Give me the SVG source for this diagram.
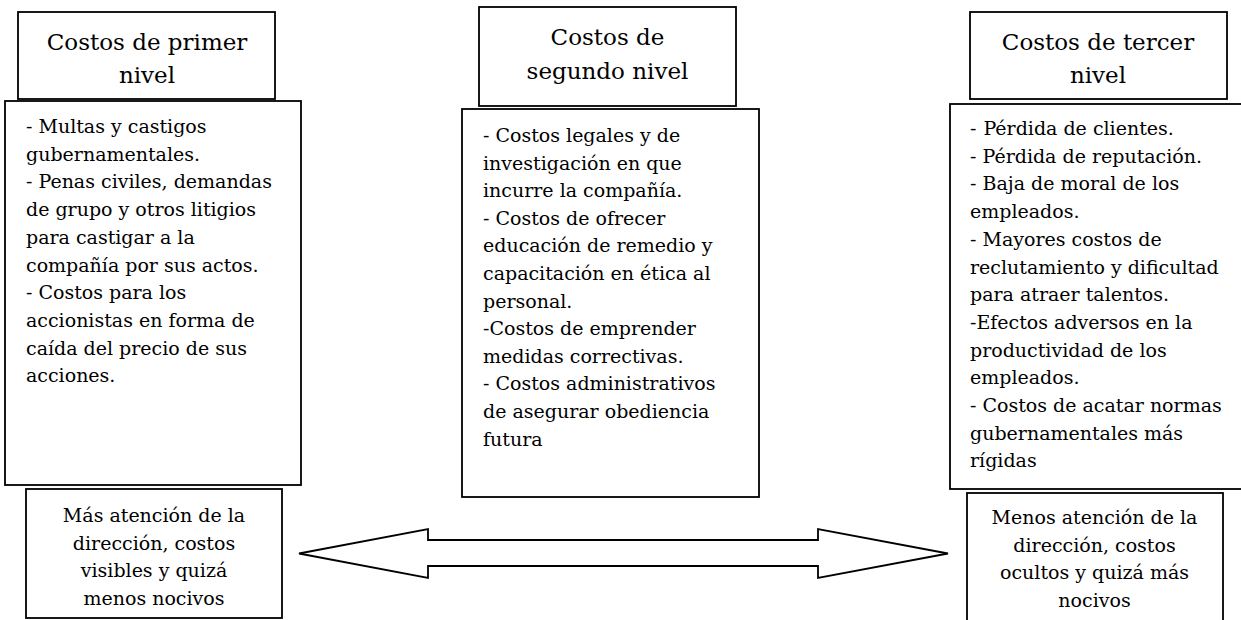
<svg xmlns="http://www.w3.org/2000/svg" width="1241" height="620" viewBox="0 0 1241 620">
<style>
.box{fill:#fff;stroke:#000;stroke-width:1.8}
text{font-family:'DejaVu Serif','Liberation Serif',serif;fill:#000}
.title{font-size:23px;text-anchor:middle}
.body{font-size:19px}
.foot{font-size:19px;text-anchor:middle}
.arrow{fill:#fff;stroke:#000;stroke-width:1.8;stroke-linejoin:miter}
</style>
<rect width="1241" height="620" fill="#fff"/>
<g id="title1">
<rect class="box" x="18" y="12" width="257" height="87"/>
<text class="title" x="147" y="50">Costos de primer</text>
<text class="title" x="147" y="83">nivel</text>
</g>
<g id="content1">
<rect class="box" x="5" y="101" width="296" height="384"/>
<text class="body" x="26" y="133">- Multas y castigos</text>
<text class="body" x="26" y="160.7">gubernamentales.</text>
<text class="body" x="26" y="188.4">- Penas civiles, demandas</text>
<text class="body" x="26" y="216.1">de grupo y otros litigios</text>
<text class="body" x="26" y="243.8">para castigar a la</text>
<text class="body" x="26" y="271.5">compañía por sus actos.</text>
<text class="body" x="26" y="299.2">- Costos para los</text>
<text class="body" x="26" y="326.9">accionistas en forma de</text>
<text class="body" x="26" y="354.6">caída del precio de sus</text>
<text class="body" x="26" y="382.3">acciones.</text>
</g>
<g id="title2">
<rect class="box" x="479" y="7" width="257" height="99"/>
<text class="title" x="607.5" y="45">Costos de</text>
<text class="title" x="607.5" y="79">segundo nivel</text>
</g>
<g id="content2">
<rect class="box" x="462" y="109" width="297" height="388"/>
<text class="body" x="483" y="142">- Costos legales y de</text>
<text class="body" x="483" y="169.6">investigación en que</text>
<text class="body" x="483" y="197.2">incurre la compañía.</text>
<text class="body" x="483" y="224.8">- Costos de ofrecer</text>
<text class="body" x="483" y="252.4">educación de remedio y</text>
<text class="body" x="483" y="280">capacitación en ética al</text>
<text class="body" x="483" y="307.6">personal.</text>
<text class="body" x="483" y="335.2">-Costos de emprender</text>
<text class="body" x="483" y="362.8">medidas correctivas.</text>
<text class="body" x="483" y="390.4">- Costos administrativos</text>
<text class="body" x="483" y="418">de asegurar obediencia</text>
<text class="body" x="483" y="445.6">futura</text>
</g>
<g id="title3">
<rect class="box" x="970" y="12" width="257" height="87"/>
<text class="title" x="1098" y="50">Costos de tercer</text>
<text class="title" x="1098" y="83">nivel</text>
</g>
<g id="content3">
<rect class="box" x="950" y="104" width="300" height="385"/>
<text class="body" x="970" y="135"><tspan>-</tspan><tspan dx="7">Pérdida de clientes.</tspan></text>
<text class="body" x="970" y="162.7">- Pérdida de reputación.</text>
<text class="body" x="970" y="190.4">- Baja de moral de los</text>
<text class="body" x="970" y="218.1">empleados.</text>
<text class="body" x="970" y="245.8">- Mayores costos de</text>
<text class="body" x="970" y="273.5">reclutamiento y dificultad</text>
<text class="body" x="970" y="301.2">para atraer talentos.</text>
<text class="body" x="970" y="328.9">-Efectos adversos en la</text>
<text class="body" x="970" y="356.6">productividad de los</text>
<text class="body" x="970" y="384.3">empleados.</text>
<text class="body" x="970" y="412">- Costos de acatar normas</text>
<text class="body" x="970" y="439.7">gubernamentales más</text>
<text class="body" x="970" y="467.4">rígidas</text>
</g>
<g id="foot1">
<rect class="box" x="26" y="489" width="256" height="129"/>
<text class="foot" x="154" y="522">Más atención de la</text>
<text class="foot" x="154" y="549.7">dirección, costos</text>
<text class="foot" x="154" y="577.4">visibles y quizá</text>
<text class="foot" x="154" y="605.1">menos nocivos</text>
</g>
<g id="foot3">
<rect class="box" x="967" y="493" width="256" height="140"/>
<text class="foot" x="1094.5" y="524">Menos atención de la</text>
<text class="foot" x="1094.5" y="551.7">dirección, costos</text>
<text class="foot" x="1094.5" y="579.4">ocultos y quizá más</text>
<text class="foot" x="1094.5" y="607.1">nocivos</text>
</g>
<g id="connectors">
<path class="arrow" d="M299,553.5 L428,529 L428,540 L818,540 L818,529 L948,553.5 L818,578 L818,566 L428,566 L428,578 Z"/>
</g>
</svg>
